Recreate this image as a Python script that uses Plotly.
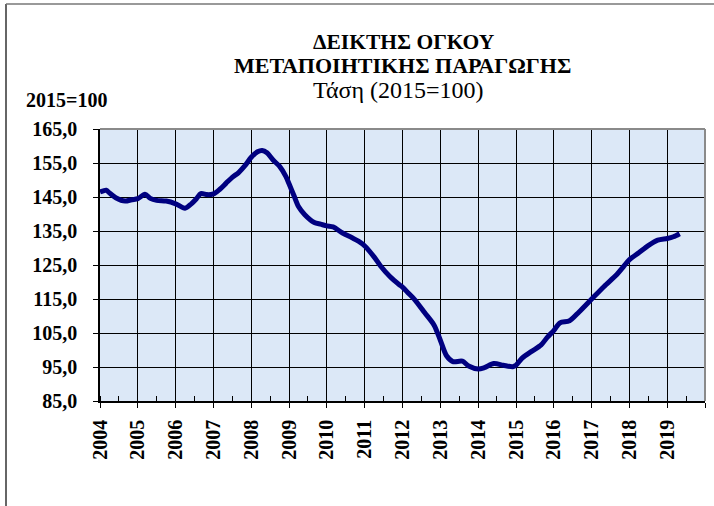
import plotly.graph_objects as go

# ---- data ----
dates = [
    "2004-01-01", "2004-03-01", "2004-04-01", "2004-06-01", "2004-09-01", "2004-11-01",
    "2005-01-01", "2005-03-10", "2005-05-01", "2005-07-01", "2005-10-01",
    "2006-01-01", "2006-04-01", "2006-06-01", "2006-07-20", "2006-09-01", "2006-11-01",
    "2007-01-01", "2007-03-01", "2007-05-01", "2007-07-01", "2007-09-01", "2007-11-01",
    "2008-01-01", "2008-03-01", "2008-04-15", "2008-06-01", "2008-08-01", "2008-10-01", "2008-12-01",
    "2009-01-01", "2009-02-15", "2009-04-01", "2009-06-01", "2009-09-01", "2009-11-01",
    "2010-01-01", "2010-03-01", "2010-06-01", "2010-09-01", "2010-11-01",
    "2011-01-01", "2011-04-01", "2011-06-01", "2011-09-01", "2011-12-01",
    "2012-01-01", "2012-03-01", "2012-05-01", "2012-08-01", "2012-11-01",
    "2013-01-01", "2013-03-01", "2013-05-01", "2013-08-01", "2013-10-01",
    "2014-01-01", "2014-03-01", "2014-06-01", "2014-09-01", "2014-12-01",
    "2015-01-01", "2015-03-01", "2015-06-01", "2015-09-01", "2015-11-01",
    "2016-01-01", "2016-03-01", "2016-06-01", "2016-09-01",
    "2017-01-01", "2017-05-01", "2017-09-01", "2017-11-01",
    "2018-01-01", "2018-04-01", "2018-07-01", "2018-10-01",
    "2019-01-01", "2019-03-01", "2019-05-01",
]
values = [
    146.5, 147.0, 146.2, 144.8, 143.8, 144.2,
    144.5, 145.8, 144.6, 144.0, 143.8,
    143.0, 141.7, 143.0, 144.5, 146.0, 145.7,
    145.9, 147.2, 149.0, 150.8, 152.2, 154.2,
    156.7, 158.3, 158.7, 158.0, 155.8, 154.0, 151.0,
    148.8, 145.5, 142.2, 139.8, 137.5, 137.0,
    136.5, 136.2, 134.4, 133.0, 132.0,
    130.6, 127.4, 124.8, 121.6, 119.2,
    118.5, 116.6, 114.7, 111.0, 107.3,
    102.8, 98.3, 96.6, 96.7, 95.3,
    94.4, 94.8, 96.0, 95.5, 95.1,
    95.5, 97.6, 99.6, 101.5, 103.8,
    105.7, 108.0, 108.6, 111.2,
    115.0, 118.7, 122.2, 124.4,
    126.6, 128.6, 130.7, 132.3,
    132.8, 133.3, 134.2,
]

title_line1 = "ΔΕΙΚΤΗΣ ΟΓΚΟΥ"
title_line2 = "ΜΕΤΑΠΟΙΗΤΙΚΗΣ ΠΑΡΑΓΩΓΗΣ"
title_line3 = "Τάση (2015=100)"
y_unit_label = "2015=100"

FONT = "Liberation Serif"

fig = go.Figure()
fig.add_trace(go.Scatter(
    x=dates, y=values, mode="lines",
    line=dict(color="#000080", width=5, shape="spline", smoothing=0.8),
    hoverinfo="x+y", showlegend=False,
))

W, H = 714, 506
L, R, T, B = 100, 9, 129, 105
pw, ph = W - L - R, H - T - B


def px(xp):
    return (xp - L) / pw


def py(yp):
    return (H - B - yp) / ph


fig.update_layout(
    width=W, height=H,
    margin=dict(l=L, r=R, t=T, b=B, pad=0),
    paper_bgcolor="white",
    plot_bgcolor="#dce8f7",
    separators=",.",
    font=dict(family=FONT, color="black"),
    xaxis=dict(
        type="date",
        range=["2004-01-01", "2019-12-31 12:00"],
        tickmode="linear", tick0="2004-01-01", dtick="M12", tickformat="%Y",
        tickangle=-90,
        tickfont=dict(family=FONT, size=20, color="black", weight="bold"),
        ticks="outside", ticklen=5, tickcolor="black", tickwidth=1,
        ticklabelstandoff=4,
        showgrid=True, gridcolor="black", gridwidth=1,
        showline=True, linecolor="black", linewidth=1.5,
        minor=dict(dtick="M6", tick0="2004-01-01", ticks="inside", ticklen=5,
                   tickcolor="black", showgrid=False),
        zeroline=False, fixedrange=True,
    ),
    yaxis=dict(
        range=[85, 165], tickmode="linear", tick0=85, dtick=10, tickformat=".1f",
        tickfont=dict(family=FONT, size=20, color="black", weight="bold"),
        ticks="outside", ticklen=5, tickcolor="black", tickwidth=1,
        ticklabelstandoff=12,
        showgrid=True, gridcolor="black", gridwidth=1,
        showline=True, linecolor="black", linewidth=1.5,
        zeroline=False, fixedrange=True,
    ),
    shapes=[
        # gray top/right border of plot area
        dict(type="line", xref="paper", yref="paper", x0=0, x1=1, y0=1, y1=1,
             line=dict(color="#8a8a8a", width=2)),
        dict(type="line", xref="paper", yref="paper", x0=1, x1=1, y0=0, y1=1,
             line=dict(color="#8a8a8a", width=2)),
        # outer chart frame
        dict(type="line", xref="paper", yref="paper", x0=px(6), x1=px(6), y0=py(4), y1=py(520),
             line=dict(color="#333333", width=1.5)),
        dict(type="line", xref="paper", yref="paper", x0=px(6), x1=px(720), y0=py(4), y1=py(4),
             line=dict(color="#777777", width=1.5)),
    ],
    annotations=[
        dict(text=title_line1, xref="paper", yref="paper", x=px(404), y=py(42),
             xanchor="center", yanchor="middle", showarrow=False,
             font=dict(family=FONT, size=21.5, color="black", weight="bold")),
        dict(text=title_line2, xref="paper", yref="paper", x=px(402), y=py(66),
             xanchor="center", yanchor="middle", showarrow=False,
             font=dict(family=FONT, size=22, color="black", weight="bold")),
        dict(text=title_line3, xref="paper", yref="paper", x=px(398), y=py(90),
             xanchor="center", yanchor="middle", showarrow=False,
             font=dict(family=FONT, size=24, color="black")),
        dict(text=y_unit_label, xref="paper", yref="paper", x=px(24), y=py(100),
             xanchor="left", yanchor="middle", showarrow=False,
             font=dict(family=FONT, size=20, color="black", weight="bold")),
    ],
)

fig.write_html(
    "out.html",
    config={"displayModeBar": False},
    post_script="document.body.style.margin='0';document.body.style.padding='0';document.body.style.overflow='hidden';",
)
